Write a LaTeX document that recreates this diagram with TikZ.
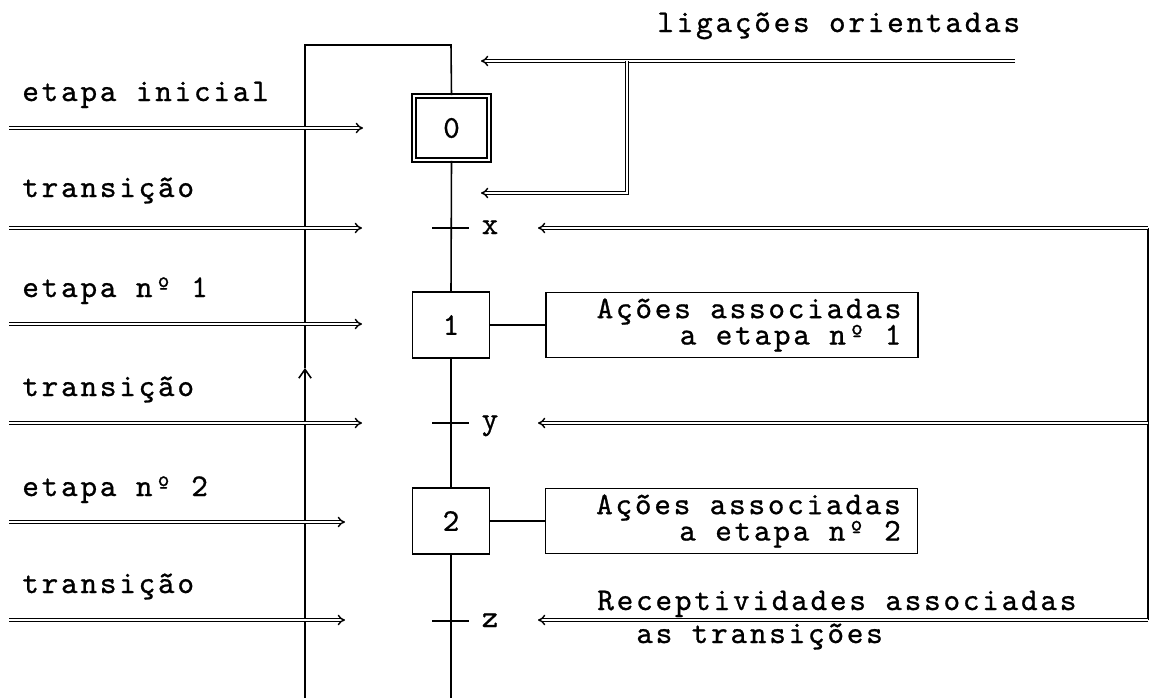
\documentclass[tikz,border=0pt]{standalone}
\usepackage{fontspec}
\usetikzlibrary{arrows.meta}

\newfontfamily\grafcetfont[LetterSpace=8.8, FakeBold=0.8]{lmmono10-regular.otf}

\tikzset{
    stepbox/.style={draw, line width=0.9pt, minimum width=1.54cm, minimum height=1.32cm, inner sep=0pt},
    actbox/.style={draw, line width=0.9pt, minimum width=7.44cm, minimum height=1.3cm, inner sep=0pt, align=right},
    lbl/.style={anchor=base west, inner sep=0pt},
    link/.style={line width=0.9pt},
    dblarrow/.style={double, line width=0.8pt, double distance=1.2pt, -Implies},
}

\begin{document}
\begin{tikzpicture}[x=0.02cm, y=-0.02cm, font={\grafcetfont\fontsize{18pt}{15pt}\selectfont}]
        \useasboundingbox (0,0) rectangle (1151,698);

        % etapas
        \node[stepbox, double, double distance=1.6pt, minimum width=1.5cm, minimum height=1.28cm] (s0) at (451.5,128) {0};
        \node[stepbox] (s1) at (451,325) {1};
        \node[stepbox] (s2) at (451,521) {2};

        % acoes
        \node[actbox] (a1) at (732,325) {\hspace*{0.68cm}Ações associadas\\a etapa nº 1};
        \node[actbox] (a2) at (731.5,521) {\hspace*{0.68cm}Ações associadas\\a etapa nº 2};

        \draw[link] (s1.east) -- (a1.west);
        \draw[link] (s2.east) -- (a2.west);

        % ligacao principal
        \coordinate (top0) at (451,45);
        \coordinate (topL) at (305,45);
        \coordinate (upL) at (305,368);
        \coordinate (botL) at (305,698);
        \coordinate (botR) at (451,698);

        \draw[link] (s0.north) -- (top0) -- (topL) -- (upL);
        \draw[link, -{Straight Barb[length=5pt, width=7pt]}] (botL) -- (upL);
        \draw[link] (s0.south) -- (s1.north);
        \draw[link] (s1.south) -- (s2.north);
        \draw[link] (s2.south) -- (botR);

        % transicoes
        \foreach \n/\y/\t in {1/228/x, 2/423/y, 3/621/z} {
            \coordinate (tw\n) at (432,\y);
            \coordinate (te\n) at (469,\y);
            \draw[link] (tw\n) -- (te\n);
            \node[anchor=base, inner sep=0pt] (tl\n) at (490,\y+6) {\t};
        }

        % setas da esquerda
        \foreach \n/\y/\xe in {0/128/363, 1/228/362, 2/324/362, 3/423/362, 4/522/345, 5/620/345} {
            \coordinate (la\n) at (9,\y);
            \coordinate (lb\n) at (\xe,\y);
            \draw[dblarrow] (la\n) -- (lb\n);
        }
        \foreach \n/\y/\txt in {0/101/etapa inicial, 1/197/transição, 2/297/etapa nº 1, 3/396/transição, 4/496/etapa nº 2, 5/593/transição} {
            \node[lbl] (lt\n) at (22,\y) {\txt};
        }

        % ligacoes orientadas
        \node[lbl] (lig) at (657,32) {ligações orientadas};
        \coordinate (oa) at (1015,61);
        \coordinate (ob) at (481,61);
        \coordinate (oc) at (627,61);
        \coordinate (od) at (627,193);
        \coordinate (oe) at (481,193);
        \draw[dblarrow] (oa) -- (ob);
        \draw[dblarrow] (oc) -- (od) -- (oe);

        % receptividades
        \coordinate (rs1) at (1148,228);
        \coordinate (rs2) at (1148,423);
        \coordinate (rs3) at (1148,620);
        \draw[link] (rs1) -- (rs3);
        \foreach \n/\y in {1/228, 2/423, 3/620} {
            \coordinate (re\n) at (538,\y);
            \draw[dblarrow] (rs\n) -- (re\n);
        }
        \node[lbl] (rec1) at (597,610) {Receptividades associadas};
        \node[lbl] (rec2) at (636,643) {as transições};
    \end{tikzpicture}
\end{document}
